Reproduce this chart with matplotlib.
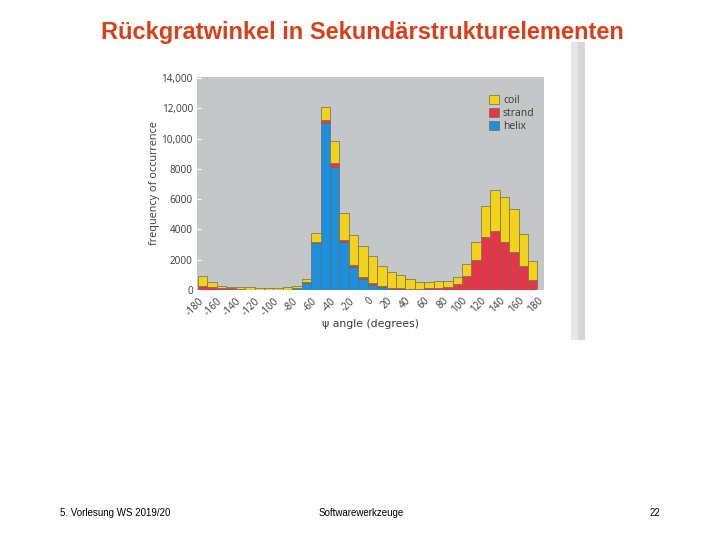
import matplotlib
matplotlib.use("Agg")
import matplotlib.pyplot as plt
from matplotlib.patches import Rectangle, Patch
import numpy as np

# ---- data (10-degree bins of psi angle, left edges) ----
bin_edges = list(range(-180, 180, 10))
helix = [0, 0, 0, 0, 0, 0, 0, 0, 0, 0, 100, 490, 3090, 11040, 8140, 3160, 1500, 730,
         340, 180, 60, 40, 20, 10, 0, 0, 0, 0, 0, 0, 0, 0, 0, 0, 0, 0]
strand = [270, 190, 120, 100, 40, 30, 20, 20, 20, 20, 10, 70, 110, 200, 220, 160, 160, 150,
          150, 90, 90, 70, 70, 80, 130, 150, 180, 380, 930, 1960, 3490, 3870, 3180, 2510, 1560, 670]
coil = [660, 330, 150, 100, 160, 170, 100, 110, 110, 160, 140, 170, 540, 860, 1480, 1770, 1970, 2040,
        1730, 1290, 1010, 850, 640, 470, 380, 450, 440, 510, 800, 1220, 2070, 2750, 2980, 2820, 2130, 1220]
xtick_vals = list(range(-180, 181, 20))
ytick_vals = [0, 2000, 4000, 6000, 8000, 10000, 12000, 14000]
ytick_labels = ["0", "2000", "4000", "6000", "8000", "10,000", "12,000", "14,000"]

title = "Rückgratwinkel in Sekundärstrukturelementen"
footer_left = "5. Vorlesung WS 2019/20"
footer_mid = "Softwarewerkzeuge"
footer_right = "22"

# ---- styling ----
c_coil = "#f3d21c"
c_strand = "#e5354b"
c_helix = "#1d8fdf"
c_bg = "#c4c7c8"
c_txt = "#3a3a3a"
edge = "#6e6a55"

fig = plt.figure(figsize=(7.2, 5.4), dpi=100)
fig.patch.set_facecolor("white")

# book-gutter shadow at right edge of the scan
fig.patches.append(Rectangle((571 / 720, 1 - 340 / 540), 14 / 720, 298 / 540,
                             transform=fig.transFigure, facecolor="#e6e6e6",
                             edgecolor="none", zorder=0))
fig.patches.append(Rectangle((578 / 720, 1 - 340 / 540), 7 / 720, 298 / 540,
                             transform=fig.transFigure, facecolor="#d6d6d6",
                             edgecolor="none", zorder=0))

ax = fig.add_axes([197 / 720, 1 - 290 / 540, (544 - 197) / 720, (290 - 77) / 540])
ax.set_facecolor(c_bg)

x = np.array(bin_edges)
h = np.array(helix)
s = np.array(strand)
c = np.array(coil)
kw = dict(width=10, align="edge", edgecolor=edge, linewidth=0.5)
ax.bar(x, h, color=c_helix, **kw)
ax.bar(x, s, bottom=h, color=c_strand, **kw)
ax.bar(x, c, bottom=h + s, color=c_coil, **kw)

ax.set_xlim(-181, 187)
ax.set_ylim(0, 14070)
for sp in ax.spines.values():
    sp.set_visible(False)

ax.set_yticks(ytick_vals)
ax.set_yticklabels(ytick_labels, fontfamily="Open Sans", fontsize=7.2, color=c_txt)
ax.tick_params(axis="y", direction="in", length=3, color="white", pad=3)
ax.set_xticks(xtick_vals)
ax.set_xticklabels([str(v) for v in xtick_vals], rotation=45, ha="right", va="top",
                   rotation_mode="anchor", fontfamily="Open Sans", fontsize=7.2, color=c_txt)
ax.tick_params(axis="x", length=0, pad=4)

ax.set_ylabel("frequency of occurrence", fontfamily="Open Sans", fontsize=7.8,
              color=c_txt, labelpad=1)
ax.set_xlabel("ψ angle (degrees)", fontfamily="DejaVu Sans", fontsize=7.8,
              color=c_txt, labelpad=1)

handles = [Patch(facecolor=c_coil, edgecolor=edge, linewidth=0.5, label="coil"),
           Patch(facecolor=c_strand, edgecolor=edge, linewidth=0.5, label="strand"),
           Patch(facecolor=c_helix, edgecolor=edge, linewidth=0.5, label="helix")]
leg = ax.legend(handles=handles, loc="upper right", bbox_to_anchor=(1.0, 0.96),
                frameon=False, handlelength=0.9, handleheight=0.9, handletextpad=0.4,
                labelspacing=0.2, prop={"family": "Open Sans", "size": 7.5})
for t in leg.get_texts():
    t.set_color(c_txt)

fig.text(362 / 720, 1 - 32 / 540, title, ha="center", va="center",
         fontfamily="Liberation Sans", fontweight="bold", fontsize=17, color="#d8401c")

fig.text(60 / 720, 1 - 513 / 540, footer_left, ha="left", va="center",
         fontfamily="Liberation Sans", fontsize=7, color="black")
fig.text(361 / 720, 1 - 513 / 540, footer_mid, ha="center", va="center",
         fontfamily="Liberation Sans", fontsize=7, color="black")
fig.text(660 / 720, 1 - 513 / 540, footer_right, ha="right", va="center",
         fontfamily="Liberation Sans", fontsize=7, color="black")

fig.savefig("out.png", dpi=100)
